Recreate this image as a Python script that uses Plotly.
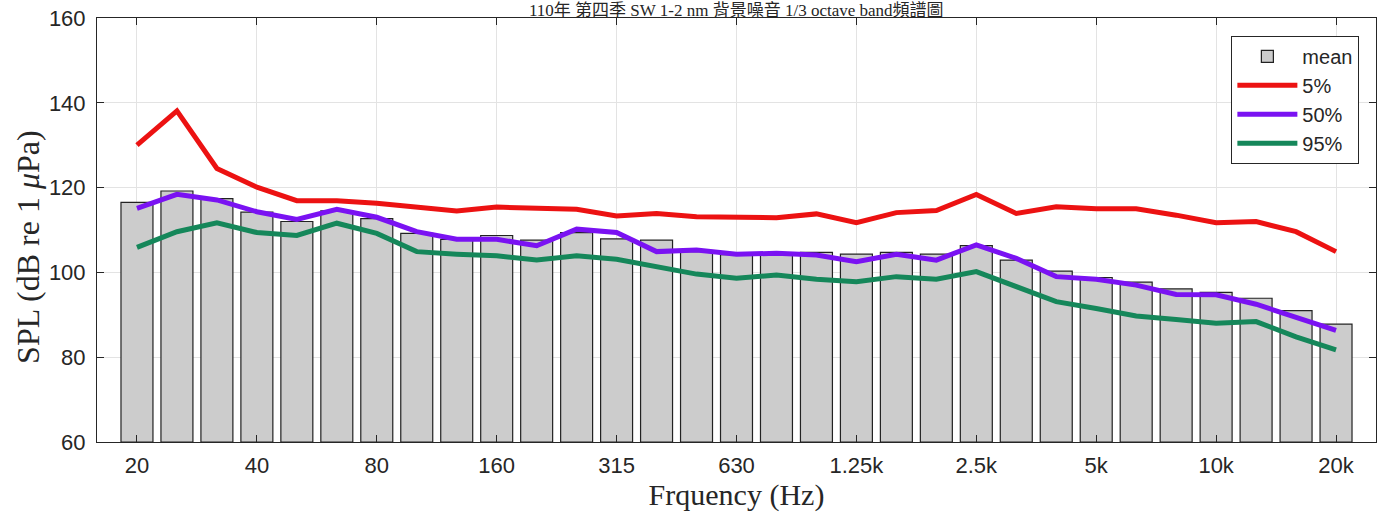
import plotly.graph_objects as go

bands = ["20", "25", "31.5", "40", "50", "63", "80", "100", "125", "160", "200",
         "250", "315", "400", "500", "630", "800", "1k", "1.25k", "1.6k", "2k",
         "2.5k", "3.15k", "4k", "5k", "6.3k", "8k", "10k", "12.5k", "16k", "20k"]

mean_spl = [116.5, 119.2, 117.4, 114.2, 112.0, 114.5, 112.7, 109.2, 107.8, 108.7, 107.6,
            109.4, 107.9, 107.6, 104.9, 104.2, 104.4, 104.7, 104.3, 104.7, 104.3,
            106.3, 102.9, 100.3, 98.8, 97.7, 96.1, 95.3, 93.9, 91.0, 87.8]

p5 = [130.0, 138.1, 124.5, 120.1, 116.9, 116.9, 116.3, 115.5, 114.5, 115.4, 115.2,
      114.9, 113.3, 113.9, 113.1, 113.0, 112.9, 113.8, 111.7, 114.1, 114.6,
      118.4, 113.9, 115.5, 115.0, 115.0, 113.5, 111.7, 112.0, 109.6, 104.9]

p50 = [115.1, 118.4, 117.1, 114.3, 112.5, 114.9, 113.0, 109.6, 107.8, 107.8, 106.3,
       110.2, 109.4, 104.9, 105.3, 104.3, 104.5, 104.1, 102.5, 104.3, 102.9,
       106.5, 103.3, 99.0, 98.4, 97.0, 94.8, 94.7, 92.5, 89.4, 86.3]

p95 = [105.9, 109.6, 111.7, 109.4, 108.7, 111.6, 109.2, 104.9, 104.3, 103.9, 102.9,
       103.9, 103.1, 101.4, 99.6, 98.6, 99.4, 98.4, 97.8, 99.0, 98.4,
       100.2, 96.6, 93.1, 91.5, 89.7, 88.9, 88.0, 88.4, 84.8, 81.7]

tick_labels = ["20", "40", "80", "160", "315", "630", "1.25k", "2.5k", "5k", "10k", "20k"]
y_ticks = [60, 80, 100, 120, 140, 160]

x = list(range(1, len(bands) + 1))
tick_pos = [x[bands.index(t)] for t in tick_labels]

fig = go.Figure()
fig.add_trace(go.Bar(x=x, y=[v - 60 for v in mean_spl], base=60, width=0.8,
                     name="mean", marker=dict(color="#CCCCCC", line=dict(color="#222222", width=1.2))))
fig.add_trace(go.Scatter(x=x, y=p5, mode="lines", name="5%",
                         line=dict(color="#EC1212", width=5)))
fig.add_trace(go.Scatter(x=x, y=p50, mode="lines", name="50%",
                         line=dict(color="#7A12F2", width=5)))
fig.add_trace(go.Scatter(x=x, y=p95, mode="lines", name="95%",
                         line=dict(color="#15875A", width=5)))

tick_font = dict(family="Liberation Sans, Arial", size=22, color="#262626")
serif = "Liberation Serif, Times New Roman, Noto Sans CJK TC"

fig.update_layout(
    width=1386, height=522,
    margin=dict(l=97, r=10, t=18, b=80, autoexpand=False),
    paper_bgcolor="white", plot_bgcolor="white",
    showlegend=True,
    legend=dict(x=0.987, y=0.958, xanchor="right", yanchor="top",
                bordercolor="#262626", borderwidth=1, bgcolor="white",
                font=dict(family="Liberation Sans, Arial", size=20, color="#262626"),
                itemwidth=60, tracegroupgap=0),
    bargap=0.2,
    xaxis=dict(range=[0, 32], tickmode="array", tickvals=tick_pos, ticktext=tick_labels,
               showgrid=True, gridcolor="#E3E3E3", gridwidth=1,
               showline=True, linecolor="#262626", linewidth=1, mirror="ticks",
               ticks="inside", ticklen=7, tickcolor="#262626", ticklabelstandoff=4,
               tickfont=tick_font, zeroline=False, automargin=False,
               title=dict(text="Frquency (Hz)", font=dict(family=serif, size=30, color="#262626"),
                          standoff=6)),
    yaxis=dict(range=[60, 160], tickmode="array", tickvals=y_ticks,
               showgrid=True, gridcolor="#E3E3E3", gridwidth=1,
               showline=True, linecolor="#262626", linewidth=1, mirror="ticks",
               ticks="inside", ticklen=7, tickcolor="#262626", ticklabelstandoff=6,
               tickfont=tick_font, zeroline=False, automargin=False),
)

# y-axis title placed as rotated annotation to match reference position
fig.add_annotation(text="SPL (dB re 1 <i>μ</i>Pa)", textangle=-90,
                   xref="paper", yref="paper", x=-0.054, y=0.46,
                   xanchor="center", yanchor="middle", showarrow=False,
                   font=dict(family=serif, size=32, color="#262626"))

fig.add_annotation(text="110年 第四季 SW 1-2 nm 背景噪音 1/3 octave band頻譜圖",
                   xref="paper", yref="paper", x=0.5, y=1 + 18 / 424, xanchor="center", yanchor="top",
                   showarrow=False, borderpad=0,
                   font=dict(family=serif, size=17, color="#262626"))

fig.write_html("out.html", config={"displayModeBar": False},
               post_script="document.body.style.margin='0px';")
